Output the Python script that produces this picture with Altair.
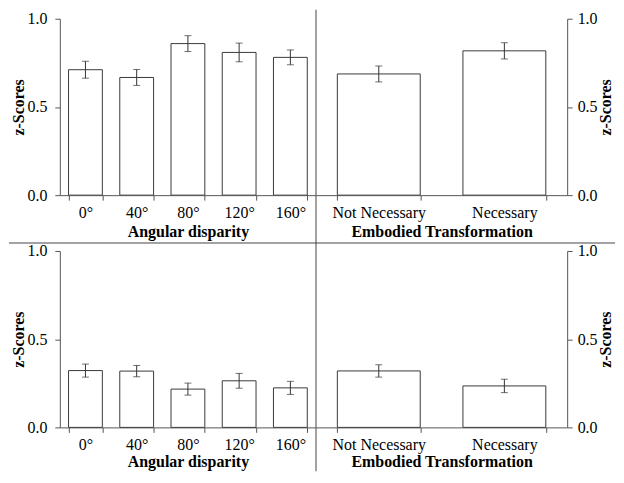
import altair as alt
import pandas as pd

# ---- data ----
angles = ["0°", "40°", "80°", "120°", "160°"]
top_angle_mean = [0.711, 0.667, 0.859, 0.809, 0.781]
top_angle_err = [0.048, 0.045, 0.045, 0.053, 0.042]
bot_angle_mean = [0.322, 0.319, 0.217, 0.264, 0.224]
bot_angle_err = [0.037, 0.032, 0.034, 0.042, 0.037]

embodied = ["Not Necessary", "Necessary"]
top_emb_mean = [0.687, 0.818]
top_emb_err = [0.045, 0.046]
bot_emb_mean = [0.320, 0.235]
bot_emb_err = [0.035, 0.038]

y_ticks = [0.0, 0.5, 1.0]

FONT = "Liberation Serif"
AXC = "#555555"
BARC = "#3a3a3a"
ERRC = "#333333"
LINEC = "#444444"

H = 177
ROW_GAP = 56


def panel(cats, means, errs, width, xtitle, side, title_y, dividers=False):
    df = pd.DataFrame({"cat": cats, "mean": means, "err": errs})
    base = alt.Chart(df).transform_calculate(
        lo="datum.mean - datum.err", hi="datum.mean + datum.err"
    )
    xenc = alt.X(
        "cat:N",
        sort=cats,
        title=xtitle,
        scale=alt.Scale(paddingInner=0.34, paddingOuter=0.17),
        axis=alt.Axis(
            labelAngle=0,
            tickBand="extent",
            tickSize=5,
            labelPadding=4,
            titleBaseline="alphabetic",
            titleY=title_y,
        ),
    )
    if side == "left":
        title_x, lab_pad = -36, 8
    else:
        title_x, lab_pad = 43.5, 5
    yaxis = alt.Axis(
        orient=side,
        values=y_ticks,
        format=".1f",
        tickSize=5,
        labelPadding=lab_pad,
        titleAngle=270,
        titleBaseline="alphabetic",
        titleAlign="center",
        titleX=title_x,
        titleY=H / 2,
    )
    yscale = alt.Scale(domain=[0, 1])

    def yenc(field):
        return alt.Y(field, title="z-Scores", scale=yscale, axis=yaxis)

    bars = base.mark_bar(fill="white", stroke=BARC, strokeWidth=1).encode(
        x=xenc, y=yenc("mean:Q")
    )
    rule = base.mark_rule(color=ERRC, strokeWidth=1).encode(
        x=xenc, y=yenc("lo:Q"), y2="hi:Q"
    )
    cap_lo = base.mark_tick(color=ERRC, size=7, thickness=1).encode(
        x=xenc, y=yenc("lo:Q")
    )
    cap_hi = base.mark_tick(color=ERRC, size=7, thickness=1).encode(
        x=xenc, y=yenc("hi:Q")
    )
    layers = [bars, rule, cap_lo, cap_hi]
    if dividers:
        one = alt.Chart(pd.DataFrame({"d": [0]}))
        vline = one.mark_rule(color=LINEC, strokeWidth=1).encode(
            x=alt.value(width), y=alt.value(-9), y2=alt.value(454)
        )
        hline = one.mark_rule(color=LINEC, strokeWidth=1).encode(
            y=alt.value(225), x=alt.value(-51), x2=alt.value(557)
        )
        layers += [vline, hline]
    return alt.layer(*layers).properties(width=width, height=H)


tl = panel(angles, top_angle_mean, top_angle_err, 257, "Angular disparity", "left", 41, dividers=True)
tr = panel(embodied, top_emb_mean, top_emb_err, 252, "Embodied Transformation", "right", 41)
bl = panel(angles, bot_angle_mean, bot_angle_err, 257, "Angular disparity", "left", 39.5)
br = panel(embodied, bot_emb_mean, bot_emb_err, 252, "Embodied Transformation", "right", 39.5)

chart = (
    alt.concat(tl, tr, bl, br, columns=2, spacing={"row": ROW_GAP, "column": 0}, bounds="flush")
    .properties(padding=0)
    .configure_view(stroke=None)
    .configure_axis(
        labelFont=FONT,
        titleFont=FONT,
        labelFontSize=16,
        titleFontSize=16,
        titleFontWeight="bold",
        labelColor="black",
        titleColor="black",
        domainColor=AXC,
        tickColor=AXC,
        grid=False,
    )
)

chart.save("out.html", embed_options={"renderer": "svg", "actions": False})
